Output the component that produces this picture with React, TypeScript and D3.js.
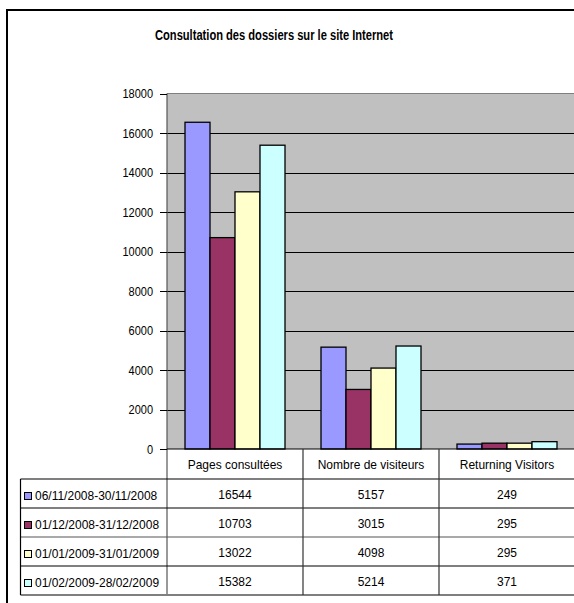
import React from "react";
import * as d3 from "d3";

const categories = ["Pages consultées", "Nombre de visiteurs", "Returning Visitors"];
const seriesNames = [
  "06/11/2008-30/11/2008",
  "01/12/2008-31/12/2008",
  "01/01/2009-31/01/2009",
  "01/02/2009-28/02/2009",
];
const novValues = [16544, 5157, 249];
const decValues = [10703, 3015, 295];
const janValues = [13022, 4098, 295];
const febValues = [15382, 5214, 371];
const yTickValues = [0, 2000, 4000, 6000, 8000, 10000, 12000, 14000, 16000, 18000];
const title = "Consultation des dossiers sur le site Internet";

const series = [novValues, decValues, janValues, febValues];
const colors = ["#9999FF", "#993366", "#FFFFCC", "#CCFFFF"];
const FONT = "'Liberation Sans', Arial, sans-serif";

export default function App() {
  const plotLeft = 167;
  const plotRight = 575;
  const plotTop = 93.5;
  const plotBottom = 449;
  const headerBottom = 479;
  const rowH = 29;
  const tableLeft = 20.5;

  const x = d3.scaleBand<string>().domain(categories).range([plotLeft, plotRight]).padding(0);
  const inner = d3
    .scaleBand<number>()
    .domain(series.map((_, i) => i))
    .range([18, x.bandwidth() - 18])
    .padding(0);
  const y = d3.scaleLinear().domain([0, 18000]).range([plotBottom, plotTop]);

  const stretched = (tx: number, ty: number, s = 1.12) => `translate(${tx},${ty}) scale(1,${s})`;

  return (
    <div style={{ position: "absolute", left: 0, top: 0 }}>
      <svg width={574} height={603} style={{ display: "block", fontFamily: FONT }}>
        <rect x={0} y={0} width={574} height={603} fill="#fff" />
        {/* outer border */}
        <line x1={6} x2={574} y1={10} y2={10} stroke="#000" strokeWidth={2} />
        <line x1={7} x2={7} y1={10} y2={603} stroke="#000" strokeWidth={2} />

        {/* title */}
        <text
          transform={stretched(274, 40, 1.15)}
          textAnchor="middle"
          fontSize={12}
          fontWeight="bold"
          textLength={238}
          lengthAdjust="spacingAndGlyphs"
          fill="#000"
        >
          {title}
        </text>

        {/* plot background */}
        <rect x={plotLeft} y={plotTop} width={plotRight - plotLeft} height={plotBottom - plotTop} fill="#C0C0C0" />
        {/* gridlines */}
        {yTickValues
          .filter((t) => t !== 0 && t !== 18000)
          .map((t) => (
            <line key={t} x1={plotLeft} x2={plotRight} y1={Math.round(y(t)) + 0.5} y2={Math.round(y(t)) + 0.5} stroke="#000" strokeWidth={1} />
          ))}
        <line x1={plotLeft} x2={plotRight} y1={plotTop} y2={plotTop} stroke="#808080" strokeWidth={1} />

        {/* bars */}
        {categories.map((c, ci) =>
          series.map((vals, si) => {
            const bx = (x(c) as number) + (inner(si) as number);
            const by = y(vals[ci]);
            return (
              <rect
                key={`${ci}-${si}`}
                x={bx}
                y={by}
                width={inner.bandwidth()}
                height={plotBottom - by}
                fill={colors[si]}
                stroke="#000"
                strokeWidth={1.3}
              />
            );
          })
        )}

        {/* y axis */}
        <line x1={plotLeft} x2={plotLeft} y1={plotTop} y2={plotBottom + 145} stroke="#555" strokeWidth={1.2} />
        {yTickValues.map((t) => (
          <g key={t}>
            <line x1={plotLeft - 7} x2={plotLeft} y1={Math.round(y(t)) + 0.5} y2={Math.round(y(t)) + 0.5} stroke="#000" />
            <text transform={stretched(plotLeft - 14, y(t) + 4.5, 1.15)} textAnchor="end" fontSize={11} fill="#000">
              {t}
            </text>
          </g>
        ))}

        {/* data table */}
        <line x1={plotLeft} x2={plotRight} y1={plotBottom} y2={plotBottom} stroke="#000" strokeWidth={1.2} />
        {[0, 1, 2, 3, 4].map((r) => (
          <line
            key={r}
            x1={tableLeft}
            x2={plotRight}
            y1={headerBottom + r * rowH}
            y2={headerBottom + r * rowH}
            stroke={r === 2 ? "#555" : "#000"}
            strokeWidth={1.2}
          />
        ))}
        <line x1={tableLeft} x2={tableLeft} y1={headerBottom} y2={headerBottom + 4 * rowH} stroke="#000" strokeWidth={1.2} />
        {categories.slice(1).map((c) => (
          <line
            key={c}
            x1={x(c) as number}
            x2={x(c) as number}
            y1={plotBottom}
            y2={headerBottom + 4 * rowH}
            stroke="#333"
            strokeWidth={1.2}
          />
        ))}
        {categories.map((c) => (
          <text
            key={c}
            transform={stretched((x(c) as number) + x.bandwidth() / 2, 469)}
            textAnchor="middle"
            fontSize={12}
            fill="#000"
          >
            {c}
          </text>
        ))}
        {seriesNames.map((name, si) => {
          const rowTop = headerBottom + si * rowH;
          return (
            <g key={name}>
              <rect x={24.5} y={rowTop + 13.5} width={7} height={7} fill={colors[si]} stroke="#000" strokeWidth={1} />
              <text transform={stretched(35, rowTop + 21)} fontSize={12} fill="#000">
                {name}
              </text>
              {categories.map((c, ci) => (
                <text
                  key={c}
                  transform={stretched((x(c) as number) + x.bandwidth() / 2, rowTop + 20)}
                  textAnchor="middle"
                  fontSize={12}
                  fill="#000"
                >
                  {series[si][ci]}
                </text>
              ))}
            </g>
          );
        })}
      </svg>
    </div>
  );
}
